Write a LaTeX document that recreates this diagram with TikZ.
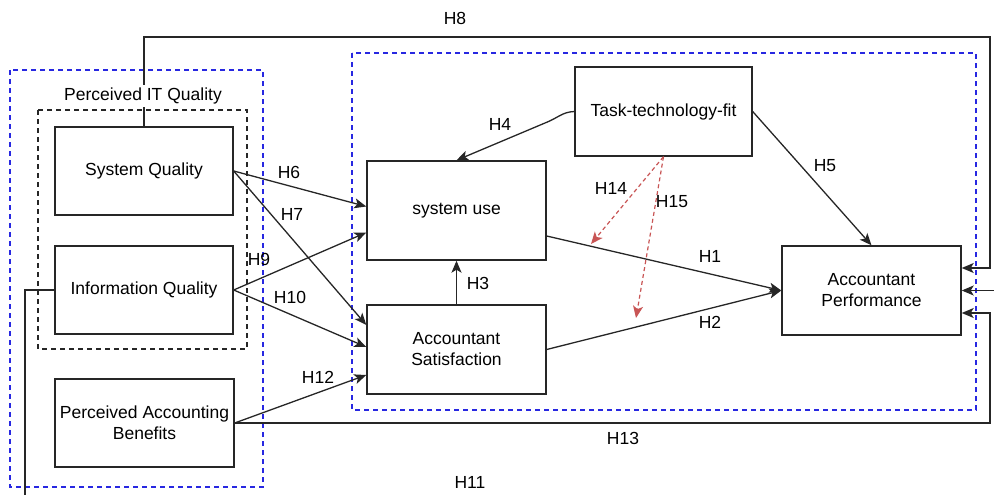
\documentclass[tikz,border=0pt]{standalone}
\usepackage{fontspec}
\setmainfont{Liberation Sans}
\usetikzlibrary{arrows.meta}
\definecolor{dblue}{RGB}{40,40,225}
\definecolor{dred}{RGB}{200,85,85}
\begin{document}
\begin{tikzpicture}[x=1pt,y=-1pt,
  font=\fontsize{17.5}{21}\selectfont,
  box/.style={draw=black!85,line width=1.4pt,fill=white,align=center,inner sep=0pt},
  conn/.style={line width=1.3pt,draw=black!85,-{Stealth[length=12pt,width=10pt,inset=3pt]}},
  plain/.style={line width=1.3pt,draw=black!85},
  rconn/.style={line width=1.2pt,draw=dred,dash pattern=on 4pt off 3pt,-{Stealth[length=12pt,width=10pt,inset=3pt]}},
  bluebox/.style={draw=dblue,line width=1.3pt,dash pattern=on 5pt off 4pt},
  blackdash/.style={draw=black!85,line width=1.2pt,dash pattern=on 5pt off 4pt},
  lab/.style={inner sep=0pt}]
\useasboundingbox (0,0) rectangle (994,495);
% dashed groups
\draw[bluebox] (10,70) rectangle (263,487);
\draw[bluebox] (352,53) rectangle (976,410);
\draw[blackdash] (38,110) rectangle (247,349);
% boxes
\node[box,minimum width=178pt,minimum height=88pt] (sq) at (144,171) {System Quality};
\node[box,minimum width=178pt,minimum height=88pt] (iq) at (144,290) {Information Quality};
\node[box,minimum width=179pt,minimum height=88pt] (pab) at (144.5,423) {Perceived Accounting\\Benefits};
\node[box,minimum width=177pt,minimum height=89pt] (ttf) at (663.5,111.5) {Task-technology-fit};
\node[box,minimum width=179pt,minimum height=99pt] (su) at (456.5,210.5) {system use};
\node[box,minimum width=179pt,minimum height=89pt] (as) at (456.5,349.5) {Accountant\\Satisfaction};
\node[box,minimum width=179pt,minimum height=89pt] (ap) at (871.5,290.5) {Accountant\\Performance};
% coordinates for free ends / corners
\coordinate (c8a) at (144,37);
\coordinate (c8b) at (990,37);
\coordinate (c13) at (990,423);
\coordinate (c11a) at (25,290);
\coordinate (c11b) at (25,495);
\coordinate (c11c) at (994,290.5);
\coordinate (e14) at (591,244);
\coordinate (e15) at (636,318);
\coordinate (ap8) at ([yshift=22.5pt]ap.east);
\coordinate (ap13) at ([yshift=-22.5pt]ap.east);
% connectors
\draw[conn] (sq.east) -- ([yshift=4pt]su.west);
\draw[conn] (sq.east) -- ([yshift=24.5pt]as.west);
\draw[conn] (iq.east) -- ([yshift=-22pt]su.west);
\draw[conn] (iq.east) -- ([yshift=2.5pt]as.west);
\draw[conn] (pab.east) -- ([yshift=-25.5pt]as.west);
\draw[conn] (as.north) -- (su.south);
\draw[conn] ([yshift=-25.5pt]su.east) -- (ap.west);
\draw[conn] (as.east) -- (ap.west);
\draw[conn] (ttf.east) -- (ap.north);
\draw[conn] (ttf.west) .. controls (562,112) and (558,118) .. (545,123) -- (su.north);
\draw[conn] (sq.north) -- (c8a) -- (c8b) -- (c8b |- ap8) -- (ap8);
\draw[conn] (pab.east) -- (c13) -- (c13 |- ap13) -- (ap13);
\draw[plain] (iq.west) -- (c11a) -- (c11b);
\draw[conn] (c11c) -- (ap.east);
\draw[rconn] (ttf.south) -- (e14);
\draw[rconn] (ttf.south) -- (e15);
% labels
\node[lab,fill=white,inner ysep=3pt] (pitq) at (143,96) {Perceived IT Quality};
\node[lab] at (455,18) {H8};
\node[lab] at (289,172) {H6};
\node[lab] at (292,214) {H7};
\node[lab] at (259,259) {H9};
\node[lab] at (290,297) {H10};
\node[lab] at (318,377) {H12};
\node[lab] at (478,283) {H3};
\node[lab] at (500,124) {H4};
\node[lab] at (825,166) {H5};
\node[lab] at (611,188) {H14};
\node[lab] at (672,202) {H15};
\node[lab] at (710,256) {H1};
\node[lab] at (710,322) {H2};
\node[lab] at (623,438) {H13};
\node[lab] at (470,482) {H11};
\end{tikzpicture}
\end{document}
